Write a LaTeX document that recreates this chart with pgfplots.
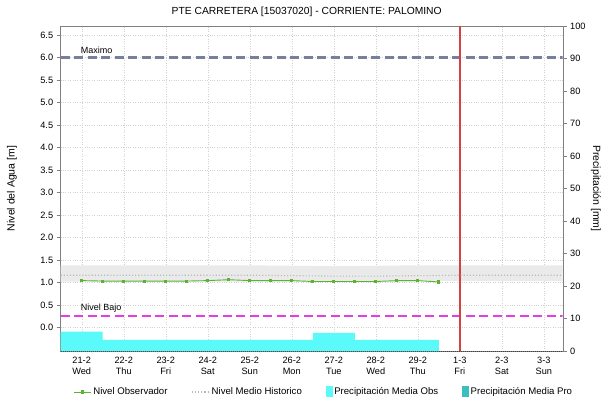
\documentclass[border=0pt]{standalone}
\usepackage{fontspec}
\setmainfont{Liberation Sans}
\usepackage{pgfplots}
\pgfplotsset{compat=1.18}

\definecolor{obsgreen}{RGB}{90,180,50}
\definecolor{maxgray}{RGB}{118,128,158}
\definecolor{bajomag}{RGB}{230,60,230}
\definecolor{hoyred}{RGB}{212,65,65}
\definecolor{obscyan}{RGB}{90,250,250}
\definecolor{procyan}{RGB}{60,190,190}
\definecolor{bandgray}{RGB}{234,234,234}

\begin{document}
\begin{tikzpicture}
\pgfplotsset{
  base/.style={
    scale only axis, width=502pt, height=325pt,
    at={(0,0)}, anchor=south west,
    xmin=-0.5, xmax=11.45,
    font=\fontsize{10.5}{12}\selectfont,
    tick label style={/pgf/number format/assume math mode=true,
      font=\fontsize{9.2}{10.5}\selectfont},
    tick align=outside,
    major tick length=4pt,
    axis line style={gray},
  }
}
\begin{axis}[base,
  ymin=-0.525, ymax=6.7,
  ytick={0,0.5,...,6.5},
  ytick pos=left,
  yticklabel style={/pgf/number format/.cd, fixed, fixed zerofill, precision=1},
  xtick={0,...,11},
  xtick pos=bottom,
  xtick style={draw=none},
  xticklabels={{21-2\\Wed},{22-2\\Thu},{23-2\\Fri},{24-2\\Sat},{25-2\\Sun},{26-2\\Mon},
    {27-2\\Tue},{28-2\\Wed},{29-2\\Thu},{1-3\\Fri},{2-3\\Sat},{3-3\\Sun}},
  xticklabel style={align=center, inner sep=1pt, yshift=-1pt},
  grid=major,
  major grid style={dotted, gray!35},
  title={PTE CARRETERA [15037020] - CORRIENTE: PALOMINO},
  title style={font=\fontsize{10.3}{12}\selectfont, xshift=-5pt},
  ylabel={Nivel del Agua [m]},
  every axis y label/.style={at={(axis description cs:-0.097,0.5)}, anchor=center, rotate=90},
  legend style={at={(0.524,-0.126)}, anchor=center, draw=none, fill=none,
    legend columns=4, font=\fontsize{9.6}{11}\selectfont,
    /tikz/every even column/.append style={column sep=22pt},
    /tikz/every odd column/.append style={column sep=0pt}},
  legend cell align=left,
]
% historical band
\addplot[fill=bandgray, draw=none, forget plot] coordinates {
  (-0.5,1.38) (0,1.38) (1,1.38) (2,1.38) (3,1.38) (4,1.38) (5,1.37) (6,1.36)
  (7,1.37) (8,1.38) (9,1.38) (10,1.38) (11,1.38) (11.45,1.38)
  (11.45,1.03) (11,1.03) (10,1.03) (9,1.03) (8,1.02) (7,1.01) (6,1.01) (5,1.02)
  (4,1.02) (3,1.02) (2,1.02) (1,1.02) (0,1.02) (-0.5,1.02)} -- cycle;
% level lines
\addplot[draw=maxgray, line width=2.2pt, dash pattern=on 9pt off 4.5pt, forget plot]
  coordinates {(-0.5,6.0) (11.45,6.0)};
\addplot[draw=bajomag, line width=1.8pt, dash pattern=on 9pt off 4.5pt, forget plot]
  coordinates {(-0.5,0.25) (11.45,0.25)};
\addplot[draw=hoyred, line width=1.5pt, forget plot]
  coordinates {(9,-0.525) (9,6.7)};
\node[anchor=south west, inner sep=1pt, font=\fontsize{9}{10}\selectfont]
  at (axis cs:-0.05,6.05) {Maximo};
\node[anchor=south west, inner sep=1pt, font=\fontsize{9}{10}\selectfont]
  at (axis cs:-0.05,0.3) {Nivel Bajo};
% observed level
\addplot[obsgreen, line width=0.9pt, mark=square*, mark size=1.1pt] coordinates {
  (0,1.04) (0.5,1.03) (1,1.03) (1.5,1.03) (2,1.03) (2.5,1.03) (3,1.04) (3.5,1.06)
  (4,1.04) (4.5,1.04) (5,1.04) (5.5,1.02) (6,1.02) (6.5,1.02) (7,1.02) (7.5,1.04)
  (8,1.04) (8.5,1.01)};
\addlegendentry{Nivel Observador}
% historical mean
\addplot[gray!55, line width=1.1pt, dotted] coordinates {
  (-0.5,1.16) (0,1.16) (1,1.16) (2,1.16) (3,1.16) (4,1.16) (5,1.15) (6,1.14)
  (7,1.14) (8,1.15) (9,1.16) (10,1.16) (11,1.16) (11.45,1.16)};
\addlegendentry{Nivel Medio Historico}
\addlegendimage{legend image code/.code={\fill[obscyan] (0pt,-4.5pt) rectangle (6pt,5.5pt);}}
\addlegendentry{Precipitación Media Obs}
\addlegendimage{legend image code/.code={\fill[procyan] (0pt,-4.5pt) rectangle (6pt,5.5pt);}}
\addlegendentry{Precipitación Media Pro}
\draw[black!75, line width=1pt, dash pattern=on 1pt off 1pt]
  (rel axis cs:0,0) -- (rel axis cs:1,0);
\end{axis}

\begin{axis}[base,
  ymin=0, ymax=100,
  ytick={0,10,...,100},
  axis y line*=right,
  axis x line=none,
  ylabel={Precipitación [mm]},
  every axis y label/.style={at={(axis description cs:1.066,0.5)}, anchor=center, rotate=-90},
]
\addplot[ybar, bar width=1, fill=obscyan, draw=none, forget plot] coordinates {
  (0,6.0) (1,3.4) (2,3.4) (3,3.4) (4,3.4) (5,3.4) (6,5.6) (7,3.4) (8,3.4)};
\end{axis}

\pgfresetboundingbox
\path[use as bounding box] (-60.7pt,-54pt) rectangle (548.3pt,351pt);
\end{tikzpicture}
\end{document}
